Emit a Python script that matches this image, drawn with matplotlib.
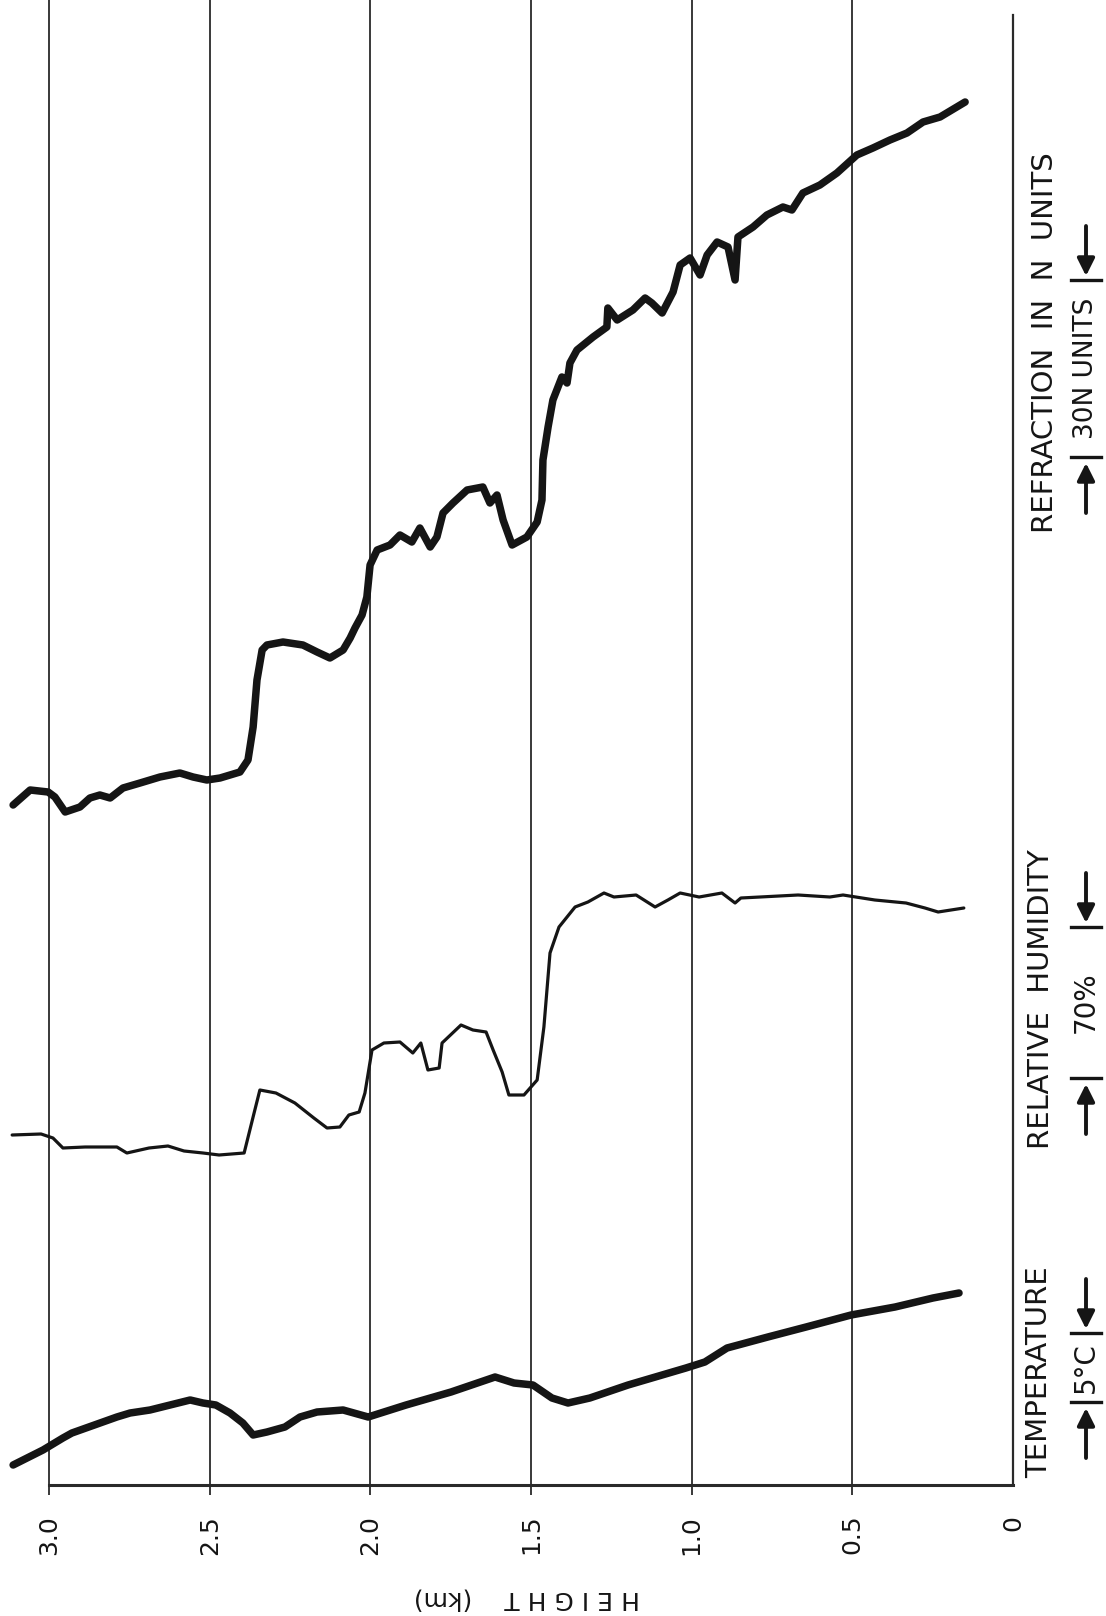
import matplotlib
matplotlib.use('Agg')
import matplotlib.pyplot as plt
from matplotlib.lines import Line2D

W, H = 1106, 1616
INK = '#151515'

# heights in km, trace positions in chart units (0 = base line)
ref_height = [3.112, 3.059, 3.003, 2.982, 2.950, 2.904, 2.873, 2.842, 2.810,
              2.770, 2.717, 2.655, 2.593, 2.552, 2.509, 2.468, 2.406, 2.381,
              2.365, 2.353, 2.337, 2.322, 2.272, 2.210, 2.166, 2.126, 2.085,
              2.063, 2.048, 2.026, 2.011, 2.001, 1.979, 1.939, 1.908, 1.871,
              1.846, 1.814, 1.793, 1.774, 1.743, 1.699, 1.650, 1.628, 1.606,
              1.587, 1.559, 1.513, 1.481, 1.466, 1.463, 1.447, 1.432, 1.404,
              1.388, 1.379, 1.357, 1.307, 1.264, 1.261, 1.232, 1.183, 1.145,
              1.124, 1.092, 1.058, 1.036, 1.005, 0.974, 0.952, 0.921, 0.887,
              0.865, 0.856, 0.809, 0.766, 0.716, 0.688, 0.654, 0.601, 0.548,
              0.486, 0.436, 0.383, 0.330, 0.280, 0.227, 0.149]
ref_value = [68.0, 69.5, 69.3, 68.8, 67.3, 67.8, 68.7, 69.0, 68.7,
             69.7, 70.2, 70.8, 71.2, 70.8, 70.5, 70.7, 71.3, 72.5,
             75.8, 80.5, 83.5, 84.0, 84.3, 84.0, 83.3, 82.7, 83.5,
             84.7, 85.7, 87.0, 88.8, 92.0, 93.5, 94.0, 95.0, 94.3,
             95.7, 93.8, 94.8, 97.2, 98.2, 99.5, 99.8, 98.2, 99.0,
             96.5, 94.0, 94.8, 96.3, 98.5, 102.5, 105.8, 108.5, 110.8,
             110.2, 112.2, 113.5, 114.8, 115.8, 117.7, 116.5, 117.5, 118.7,
             118.2, 117.2, 119.3, 122.0, 122.7, 121.0, 123.0, 124.3, 123.8,
             120.5, 124.8, 125.8, 127.0, 127.8, 127.5, 129.2, 130.0, 131.2,
             133.0, 133.7, 134.5, 135.2, 136.3, 136.8, 138.3]

hum_height = [3.115, 3.025, 2.988, 2.957, 2.888, 2.789, 2.758, 2.689, 2.630,
              2.580, 2.521, 2.471, 2.393, 2.362, 2.344, 2.294, 2.235, 2.176,
              2.135, 2.095, 2.067, 2.035, 2.017, 1.995, 1.958, 1.908, 1.868,
              1.843, 1.821, 1.786, 1.777, 1.718, 1.681, 1.640, 1.618, 1.590,
              1.569, 1.522, 1.481, 1.460, 1.441, 1.413, 1.363, 1.323, 1.273,
              1.242, 1.173, 1.114, 1.074, 1.036, 0.977, 0.906, 0.865, 0.847,
              0.787, 0.669, 0.570, 0.529, 0.430, 0.333, 0.274, 0.233, 0.153]
hum_value = [35.0, 35.1, 34.7, 33.7, 33.8, 33.8, 33.2, 33.7, 33.9,
             33.4, 33.2, 33.0, 33.2, 37.2, 39.5, 39.2, 38.2, 36.7,
             35.7, 35.8, 37.0, 37.3, 39.2, 43.5, 44.2, 44.3, 43.2,
             44.2, 41.5, 41.7, 44.2, 46.0, 45.5, 45.3, 43.5, 41.3,
             39.0, 39.0, 40.5, 45.8, 53.2, 55.8, 57.8, 58.3, 59.2,
             58.8, 59.0, 57.8, 58.5, 59.2, 58.8, 59.2, 58.2, 58.7,
             58.8, 59.0, 58.8, 59.0, 58.5, 58.2, 57.7, 57.3, 57.7]

temp_height = [3.112, 3.019, 2.957, 2.929, 2.789, 2.748, 2.686, 2.561, 2.521,
               2.481, 2.437, 2.397, 2.365, 2.322, 2.266, 2.219, 2.166, 2.085,
               2.007, 1.889, 1.749, 1.612, 1.553, 1.494, 1.435, 1.385, 1.317,
               1.198, 1.018, 0.959, 0.890, 0.763, 0.644, 0.504, 0.367, 0.249,
               0.168]
temp_value = [2.0, 3.5, 4.7, 5.2, 6.8, 7.2, 7.5, 8.5, 8.2,
              8.0, 7.2, 6.2, 5.0, 5.3, 5.8, 6.8, 7.3, 7.5,
              6.8, 8.0, 9.3, 10.8, 10.2, 10.0, 8.7, 8.2, 8.7,
              10.0, 11.7, 12.3, 13.7, 14.8, 15.8, 17.0, 17.8, 18.7,
              19.2]

height_ticks = [3.0, 2.5, 2.0, 1.5, 1.0, 0.5, 0]
height_labels = ['3.0', '2.5', '2.0', '1.5', '1.0', '0.5', '0']


def px(x, y):
    # pixel position -> figure fraction
    return x / W, 1 - y / H


def scale_bar(fig, ax, label, top, bottom, x=1086, size=20):
    for y in (top, bottom):
        x0, y0 = px(x - 15, y)
        x1, _ = px(x + 15, y)
        fig.add_artist(Line2D([x0, x1], [y0, y0], color=INK, lw=2.4,
                              transform=fig.transFigure))
    fig.text(*px(x, (top + bottom) / 2), label, rotation=90, ha='center',
             va='center', fontsize=size, color=INK)
    arrow = dict(arrowstyle='-|>', color=INK, lw=2.8, mutation_scale=26,
                 shrinkA=0, shrinkB=0)
    ax.annotate('', xy=px(x, top - 4), xytext=px(x, top - 54),
                xycoords='figure fraction', textcoords='figure fraction',
                arrowprops=arrow)
    ax.annotate('', xy=px(x, bottom + 6), xytext=px(x, bottom + 56),
                xycoords='figure fraction', textcoords='figure fraction',
                arrowprops=arrow)


def main():
    fig = plt.figure(figsize=(W / 100, H / 100), dpi=100)
    ax = fig.add_axes([0, 1 - 1485 / H, 1013 / W, 1485 / H])
    ax.set_xlim(1013 / 321.3, 0)
    ax.set_ylim(0, 148.5)
    for side in ax.spines.values():
        side.set_visible(False)

    for h in height_ticks[:-1]:
        ax.axvline(h, color='#2a2a2a', lw=1.3, clip_on=False)
    ax.axvline(0, ymax=1 - 15 / 1485, color='#2a2a2a', lw=1.6, clip_on=False)
    ax.plot([3.0, 0], [0, 0], color='#2a2a2a', lw=2.2, clip_on=False)

    ax.plot(ref_height, ref_value, color=INK, lw=5.4,
            solid_joinstyle='round', solid_capstyle='round')
    ax.plot(hum_height, hum_value, color=INK, lw=2.3,
            solid_joinstyle='round', solid_capstyle='round')
    ax.plot(temp_height, temp_value, color=INK, lw=5.4,
            solid_joinstyle='round', solid_capstyle='round')

    ax.set_xticks(height_ticks)
    ax.set_xticklabels(height_labels)
    ax.set_yticks([])
    ax.tick_params(axis='x', length=7.5, width=1.3, color='#2a2a2a',
                   pad=14, labelsize=18, labelrotation=90, labelcolor=INK)
    ax.xaxis.get_major_ticks()[-1].tick1line.set_visible(False)

    fig.text(*px(527, 1598), 'H E I G H T    (km)', rotation=180,
             ha='center', va='center', fontsize=18, color=INK)

    fig.text(*px(1039, 1372), 'TEMPERATURE', rotation=90, ha='center',
             va='center', fontsize=21, color=INK)
    fig.text(*px(1041, 999), 'RELATIVE  HUMIDITY', rotation=90, ha='center',
             va='center', fontsize=21, color=INK)
    fig.text(*px(1045, 343), 'REFRACTION  IN  N  UNITS', rotation=90,
             ha='center', va='center', fontsize=21, color=INK)

    scale_bar(fig, ax, '5°C', 1333, 1402)
    scale_bar(fig, ax, '70%', 927, 1078)
    scale_bar(fig, ax, '30N UNITS', 280, 457, size=19)

    fig.savefig('out.png', dpi=100, facecolor='white')


if __name__ == '__main__':
    main()
